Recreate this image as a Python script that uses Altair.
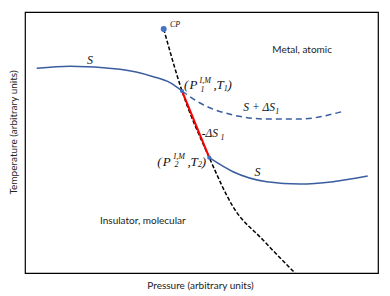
import altair as alt
import pandas as pd

# Coexistence (first-order transition) line, dashed black
coex_p = [138.7, 157.0, 184.3, 208.0, 238.0, 270.0]
coex_t = [244.0, 182.0, 115.3, 66.3, 33.0, 0.0]

# Isentrope S (upper branch, insulating side)
s_up_p = [11.7, 45.0, 95.0, 128.3, 145.0, 157.0]
s_up_t = [204.7, 206.7, 203.7, 196.3, 190.3, 182.0]

# Isentrope S + dS1 (dashed continuation)
s_ds_p = [157.0, 175.0, 208.0, 242.0, 275.0, 316.7]
s_ds_t = [182.0, 170.0, 158.0, 154.0, 154.0, 161.3]

# Isentrope S (lower branch, metallic side)
s_lo_p = [184.3, 208.0, 241.7, 275.0, 308.0, 342.7]
s_lo_t = [115.3, 101.3, 91.3, 89.0, 91.3, 97.0]

# Jump along coexistence line (-dS1), red
jump_p = [157.0, 184.3]
jump_t = [182.0, 115.3]

# Critical point and the two transition points
cp_p, cp_t = [138.7], [244.0]
pts_p = [157.0, 184.3]
pts_t = [182.0, 115.3]

# Math annotation pieces (text, P, T, font size)
math_text = ["(", "P", "I,M", "1", ",", "T", "1", ")",
             "(", "P", "I,M", "2", ",", "T", "2", ")",
             "S + ΔS", "1", "-ΔS", "1", "S", "S", "CP"]
math_x = [159, 164.5, 174.5, 175.5, 188.5, 191.5, 198.8, 202.5,
          132.3, 137.8, 148.5, 149.5, 162.5, 165.5, 173.0, 176.7,
          218.3, 250.3, 176.7, 195.5, 62, 229.5, 145]
math_y = [188, 188, 192.5, 183.5, 188, 188, 184.5, 188,
          111.3, 111.3, 115.8, 107.8, 111.3, 111.3, 107.8, 111.3,
          165.3, 161.5, 139, 135.5, 213, 101, 248]
math_size = [13, 13, 8, 8, 13, 13, 8, 13,
             13, 13, 8, 8, 13, 13, 8, 13,
             11.5, 8, 11.5, 8, 12, 12, 8]

region_text = ["Metal, atomic", "Insulator, molecular"]
region_x = [247.3, 75]
region_y = [223, 52.3]

xs = alt.Scale(domain=[0, 353], nice=False, zero=False)
ys = alt.Scale(domain=[0, 261], nice=False, zero=False)

xax = alt.Axis(title="Pressure (arbitrary units)", domain=False, ticks=False,
               labels=False, grid=False, titleX=175, titleY=12,
               titleBaseline="middle", titleFont="Lato", titleFontSize=10,
               titleFontWeight="normal", titleColor="#222222")
yax = alt.Axis(title="Temperature  (arbitrary units)", domain=False, ticks=False,
               labels=False, grid=False, titleX=-12, titleY=120, titleAngle=-90,
               titleAlign="center", titleBaseline="middle", titleFont="Lato",
               titleFontSize=10, titleFontWeight="normal", titleColor="#222222")


def line_df(p, t):
    return pd.DataFrame({"P": p, "T": t})


BLUE = "#3A5DA0"

base_x = alt.X("P:Q", scale=xs, axis=xax)
base_y = alt.Y("T:Q", scale=ys, axis=yax)

coex = alt.Chart(line_df(coex_p, coex_t)).mark_line(
    color="black", strokeWidth=1.5, strokeDash=[4, 2], interpolate="monotone"
).encode(x=base_x, y=base_y)

s_up = alt.Chart(line_df(s_up_p, s_up_t)).mark_line(
    color=BLUE, strokeWidth=1.5, interpolate="monotone"
).encode(x="P:Q", y="T:Q")

s_ds = alt.Chart(line_df(s_ds_p, s_ds_t)).mark_line(
    color=BLUE, strokeWidth=1.5, strokeDash=[6, 4], interpolate="monotone"
).encode(x="P:Q", y="T:Q")

s_lo = alt.Chart(line_df(s_lo_p, s_lo_t)).mark_line(
    color=BLUE, strokeWidth=1.5, interpolate="monotone"
).encode(x="P:Q", y="T:Q")

jump = alt.Chart(line_df(jump_p, jump_t)).mark_line(
    color="#FF0000", strokeWidth=2
).encode(x="P:Q", y="T:Q")

cp = alt.Chart(line_df(cp_p, cp_t)).mark_circle(
    color="#4472C4", opacity=1, size=36
).encode(x="P:Q", y="T:Q")

pts = alt.Chart(line_df(pts_p, pts_t)).mark_circle(
    color="#4472C4", opacity=1, size=18
).encode(x="P:Q", y="T:Q")

math = alt.Chart(pd.DataFrame({"txt": math_text, "P": math_x, "T": math_y,
                               "fs": math_size})).mark_text(
    font="Liberation Serif", fontStyle="italic", align="left",
    baseline="middle", color="#111111"
).encode(x="P:Q", y="T:Q", text="txt:N", size=alt.Size("fs:Q", scale=None))

regions = alt.Chart(pd.DataFrame({"txt": region_text, "P": region_x,
                                  "T": region_y})).mark_text(
    font="Lato", fontSize=10, align="left", baseline="middle", color="#222222"
).encode(x="P:Q", y="T:Q", text="txt:N")

chart = alt.layer(coex, s_up, s_ds, s_lo, jump, cp, pts, math, regions).properties(
    width=353, height=261,
    autosize=alt.AutoSizeParams(type="none"),
    padding={"left": 17, "top": 4, "right": 4, "bottom": 23},
).configure_view(stroke="black", strokeWidth=1.2)

chart.save("out.html", embed_options={"renderer": "svg", "actions": False})
